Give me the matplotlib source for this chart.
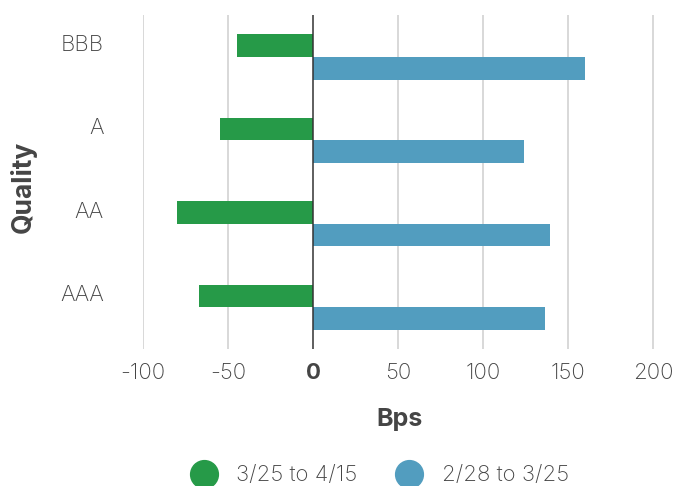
import matplotlib
matplotlib.use("Agg")
import matplotlib.pyplot as plt
import numpy as np
from matplotlib.lines import Line2D

# Spread change by credit quality (basis points)
qualities = ["AAA", "AA", "A", "BBB"]
recent_change = [-67, -80, -55, -45]      # 3/25 to 4/15
earlier_change = [136, 139, 124, 160]     # 2/28 to 3/25
series_labels = ["3/25 to 4/15", "2/28 to 3/25"]
x_ticks = [-100, -50, 0, 50, 100, 150, 200]

green = "#269A48"
blue = "#529DBF"
text_color = "#454545"

plt.rcParams["font.family"] = ["Inter", "DejaVu Sans"]

fig = plt.figure(figsize=(6.94, 4.86), dpi=100)
ax = fig.add_axes([0.206, 0.282, 0.738, 0.687])

y = np.arange(len(qualities))
h = 0.272
ax.barh(y + h / 2, recent_change, height=h, color=green, zorder=3)
ax.barh(y - h / 2, earlier_change, height=h, color=blue, zorder=3)

ax.set_xlim(-100, 201)
ax.set_ylim(-0.5, len(qualities) - 0.5)
ax.set_xticks(x_ticks)
ax.set_xticklabels([str(t) for t in x_ticks])
for t in x_ticks:
    ax.axvline(t, color="#d6d6d6" if t != 0 else "#333333",
               lw=1.3 if t != 0 else 1.1, zorder=1 if t != 0 else 4)

ax.set_yticks(y + 0.17)
ax.set_yticklabels(qualities)

for s in ax.spines.values():
    s.set_visible(False)
ax.tick_params(axis="y", length=0, pad=28, labelsize=16, labelcolor=text_color)
ax.tick_params(axis="x", length=0, pad=10, labelsize=16, labelcolor=text_color)
for lbl in ax.get_xticklabels() + ax.get_yticklabels():
    lbl.set_fontweight("light")
for lbl in ax.get_xticklabels():
    if lbl.get_text() == "0":
        lbl.set_fontweight("bold")

ax.set_xlabel("Bps", fontsize=18, fontweight="bold", color=text_color)
ax.xaxis.set_label_coords(0.5, -0.178)
ax.set_ylabel("Quality", fontsize=19, fontweight="bold", color=text_color)
ax.yaxis.set_label_coords(-0.207, 0.484)

handles = [
    Line2D([], [], marker="o", linestyle="none", markersize=20, color=green),
    Line2D([], [], marker="o", linestyle="none", markersize=20, color=blue),
]
leg = fig.legend(handles, series_labels, loc="lower center", ncol=2,
                 bbox_to_anchor=(0.547, -0.04), frameon=False, fontsize=16,
                 handlelength=1.2, handletextpad=0.85, columnspacing=1.75)
for t in leg.get_texts():
    t.set_color(text_color)
    t.set_fontweight("light")

fig.savefig("out.png", dpi=100)
